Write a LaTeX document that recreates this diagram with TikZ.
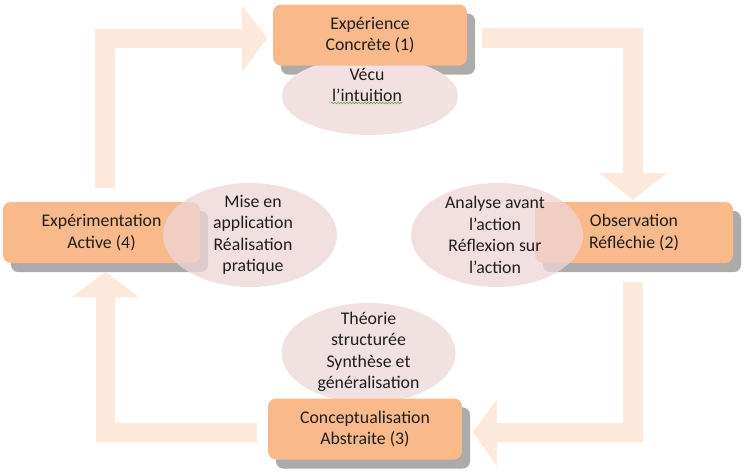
\documentclass[tikz,border=0pt]{standalone}
\usepackage{fontspec}
\setmainfont{Carlito}
\usetikzlibrary{shapes.geometric,decorations.pathmorphing}
\definecolor{boxc}{HTML}{F9B98B}
\definecolor{ellc}{HTML}{EED6D6}
\definecolor{ellsolid}{HTML}{F2E1E1}
\definecolor{arrc}{HTML}{FDE9DB}
\definecolor{shadc}{HTML}{ABABAB}
\definecolor{textc}{HTML}{1E1E1E}
\definecolor{spellc}{HTML}{6AA84F}
\pgfdeclarelayer{back}
\pgfdeclarelayer{mid}
\pgfsetlayers{back,mid,main}
\tikzset{
  txt/.style={font=\fontsize{17.8}{21.5}\selectfont, text=textc, align=center, inner sep=0pt},
  stagebox/.style={txt, rounded corners=8pt, fill=boxc, minimum height=61pt},
  bubble/.style={ellipse, fill=ellc, inner sep=0pt},
  blockarrow/.style={fill=arrc},
  shade/.style={fill=shadc, rounded corners=8pt},
}
\begin{document}
\begin{tikzpicture}[x=1pt,y=-1pt]
\useasboundingbox (0,0) rectangle (745,474);
% boxes
\node[stagebox, minimum width=194pt] (b1) at (370,35) {Expérience\\Concrète (1)};
\node[stagebox, minimum width=198pt] (b2) at (634,232.5) {Observation\\Réfléchie (2)};
\node[stagebox, minimum width=194pt] (b3) at (365,429) {Conceptualisation\\Abstraite (3)};
\node[stagebox, minimum width=197pt] (b4) at (101.5,232.5) {Expérimentation\\Active (4)};
% bubbles over boxes 2 and 4
\node[bubble, fill opacity=0.75, minimum width=172pt, minimum height=104pt] (e2) at (497,235) {};
\node[bubble, fill opacity=0.75, minimum width=174pt, minimum height=104pt] (e4) at (250,235) {};
\node[txt] (t2) at (495,235) {Analyse avant\\l’action\\Réflexion sur\\l’action};
\node[txt] (t4) at (253,235) {Mise en\\application\\Réalisation\\pratique};
% bubbles under boxes 1 and 3
\begin{pgfonlayer}{mid}
\node[bubble, fill=ellsolid, minimum width=176pt, minimum height=78pt] (e1) at (370,96) {};
\node[bubble, fill=ellsolid, minimum width=174pt, minimum height=100pt] (e3) at (368.5,353) {};
\end{pgfonlayer}
\node[txt] (t1) at (367,85) {Vécu\\l’intuition};
\node[txt] (t3) at (368.5,352) {Théorie\\structurée\\Synthèse et\\généralisation};
\coordinate (w1) at (331,103);
\coordinate (w2) at (402,103);
\draw[spellc, line width=0.6pt, decorate, decoration={snake, amplitude=0.8pt, segment length=3pt}] (w1) -- (w2);
% shadows and arrows
\begin{pgfonlayer}{back}
\fill[blockarrow] (95,188) -- (95,29) -- (242,29) -- (242,5) -- (267,38.5) -- (242,72) -- (242,48) -- (115,48) -- (115,188) -- cycle;
\fill[blockarrow] (482,28) -- (643,28) -- (643,173) -- (667,173) -- (633,200) -- (599,173) -- (623,173) -- (623,48) -- (482,48) -- cycle;
\fill[blockarrow] (623,282) -- (643,282) -- (643,442) -- (497,442) -- (497,466) -- (473,432.5) -- (497,399) -- (497,423) -- (623,423) -- cycle;
\fill[blockarrow] (257,423) -- (257,442) -- (96,442) -- (96,297) -- (72,297) -- (105.5,272) -- (139,297) -- (115,297) -- (115,423) -- cycle;
\foreach \b in {b1,b2,b3,b4}{
  \fill[shade] ([shift={(8,9)}]\b.south west) rectangle ([shift={(8,9)}]\b.north east);
}
\end{pgfonlayer}
\end{tikzpicture}
\end{document}
